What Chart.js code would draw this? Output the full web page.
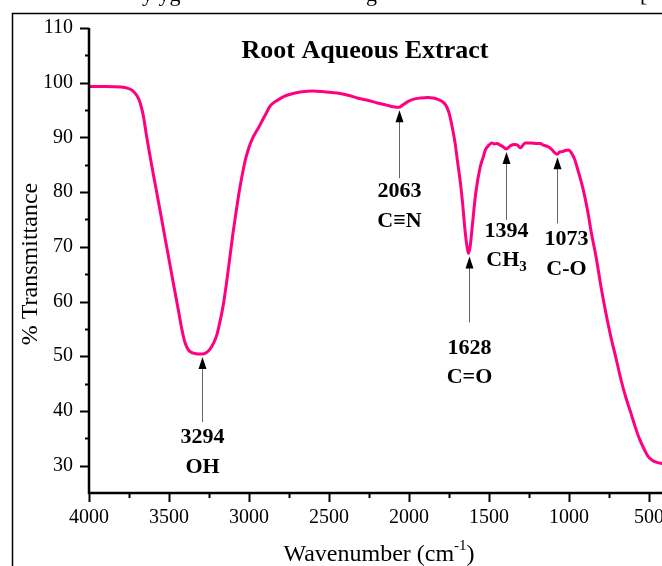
<!DOCTYPE html>
<html>
<head>
<meta charset="utf-8">
<script src="https://cdn.jsdelivr.net/npm/chart.js@4.4.0/dist/chart.umd.min.js"></script>
<style>
html, body { margin: 0; padding: 0; background: #fff; overflow: hidden; }
#wrap { width: 680px; height: 566px; }
</style>
</head>
<body>
<div id="wrap"><canvas id="myChart" width="680" height="566"></canvas></div>
<script>
// FTIR spectrum, values
var wavenumber = [
    4000, 3900, 3800, 3760, 3730, 3700, 3680, 3660, 3640, 3600,
    3560, 3520, 3480, 3440, 3420, 3400, 3380, 3360, 3338, 3310,
    3294, 3265, 3244, 3220, 3200, 3180, 3160, 3140, 3120, 3100,
    3080, 3060, 3040, 3020, 3000, 2980, 2960, 2940, 2920, 2900,
    2866, 2822, 2780, 2742, 2680, 2600, 2520, 2448, 2380, 2323,
    2260, 2198, 2140, 2098, 2063, 2040, 2010, 1970, 1929, 1880,
    1850, 1823, 1795, 1770, 1750, 1730, 1712, 1698, 1680, 1667,
    1648, 1636, 1628, 1618, 1605, 1583, 1555, 1535, 1523, 1500,
    1482, 1465, 1450, 1430, 1412, 1394, 1380, 1365, 1340, 1322,
    1305, 1290, 1273, 1240, 1198, 1180, 1161, 1130, 1104, 1090,
    1073, 1060, 1042, 1025, 1004, 988, 965, 944, 920, 900,
    880, 863, 830, 800, 770, 738, 705, 675, 645, 613,
    585, 557, 530, 506, 480, 450, 420, 400
];
var transmittance = [
    99.3, 99.3, 99.2, 99.0, 98.6, 97.6, 96.3, 93.9, 90.2, 83.6,
    77.3, 70.9, 64.5, 58.2, 55.0, 52.5, 51.2, 50.7, 50.5, 50.4,
    50.4, 50.7, 51.3, 52.5, 54.0, 56.5, 59.5, 63.5, 68.0, 72.5,
    76.5, 80.3, 83.5, 86.2, 88.2, 89.7, 90.8, 91.8, 92.9, 94.0,
    95.8, 96.8, 97.5, 97.9, 98.3, 98.5, 98.3, 98.1, 97.7, 97.2,
    96.8, 96.3, 95.9, 95.6, 95.5, 95.9, 96.5, 97.0, 97.2, 97.3,
    97.2, 97.0, 96.6, 95.9, 94.5, 91.9, 89.0, 85.9, 82.0, 78.6,
    72.5, 69.8, 68.8, 70.0, 73.6, 79.8, 84.6, 86.5, 87.7, 88.6,
    89.0, 88.8, 88.9, 88.6, 88.3, 87.9, 88.1, 88.5, 88.7, 88.6,
    88.1, 88.5, 89.0, 89.0, 88.9, 88.9, 88.6, 88.3, 87.7, 87.2,
    86.9, 87.3, 87.4, 87.6, 87.7, 87.3, 86.0, 84.0, 81.5, 79.0,
    76.0, 73.0, 68.0, 62.7, 58.0, 53.5, 49.5, 45.7, 42.5, 39.6,
    37.0, 34.7, 33.0, 31.7, 31.0, 30.6, 30.4, 30.3
];
var xTicks = [4000, 3500, 3000, 2500, 2000, 1500, 1000, 500];
var yTicks = [30, 40, 50, 60, 70, 80, 90, 100, 110];
var peakWavenumber = [3294, 2063, 1628, 1394, 1073];
var peakGroup = ['OH', 'C\u2261N', 'C=O', 'CH3', 'C-O'];

var serif = '"Liberation Serif", "Times New Roman", serif';

function curveAt(wn) {
    for (var i = 0; i < wavenumber.length - 1; i++) {
        var a = wavenumber[i], b = wavenumber[i + 1];
        if (wn <= a && wn >= b) {
            var t = (a - wn) / (a - b);
            return transmittance[i] + t * (transmittance[i + 1] - transmittance[i]);
        }
    }
    return transmittance[transmittance.length - 1];
}

// arrow length and label offsets (px) for each peak note
var noteLayout = [
    { len: 65, num: 15, grp: 45, dx: 0 },
    { len: 68, num: 13, grp: 43, dx: 0 },
    { len: 66, num: 26, grp: 55, dx: 0 },
    { len: 68, num: 11, grp: 40, dx: 0 },
    { len: 66, num: 16, grp: 46, dx: 9 }
];

var ftirDecor = {
    id: 'ftirDecor',
    afterDraw: function(chart) {
        var ctx = chart.ctx;
        var xs = chart.scales.x, ys = chart.scales.y;
        var area = chart.chartArea;
        ctx.save();

        // page frame round the figure
        ctx.strokeStyle = '#000';
        ctx.lineWidth = 1.5;
        ctx.beginPath();
        ctx.moveTo(12.5, chart.height);
        ctx.lineTo(12.5, 13.5);
        ctx.lineTo(chart.width, 13.5);
        ctx.stroke();

        // tail of the text line above the figure
        ctx.fillStyle = '#000';
        ctx.font = '22px ' + serif;
        ctx.textAlign = 'left';
        ctx.textBaseline = 'alphabetic';
        ctx.fillText('y yg', 142, 1);
        ctx.fillText('g', 366, 1);
        ctx.fillText('[', 640, 1);

        // axes
        var top = ys.getPixelForValue(110);
        ctx.lineWidth = 2.5;
        ctx.beginPath();
        ctx.moveTo(area.left, top);
        ctx.lineTo(area.left, area.bottom + 1);
        ctx.moveTo(area.left - 1, area.bottom);
        ctx.lineTo(chart.width, area.bottom);
        ctx.stroke();

        ctx.lineWidth = 2;
        ctx.beginPath();
        for (var v = 30; v <= 110; v += 5) {
            var py = Math.round(ys.getPixelForValue(v)) + 0.5;
            ctx.moveTo(area.left, py);
            ctx.lineTo(area.left - (v % 10 === 0 ? 9 : 4), py);
        }
        for (var w = 4000; w >= 400; w -= 250) {
            var px = Math.round(xs.getPixelForValue(w)) + 0.5;
            ctx.moveTo(px, area.bottom);
            ctx.lineTo(px, area.bottom + (w % 500 === 0 ? 9 : 5));
        }
        ctx.stroke();

        // title
        ctx.font = 'bold 26px ' + serif;
        ctx.textAlign = 'center';
        ctx.textBaseline = 'middle';
        ctx.fillText('Root Aqueous Extract', 365, 51);

        // axis titles
        ctx.font = '24px ' + serif;
        ctx.save();
        ctx.translate(31, 264);
        ctx.rotate(-Math.PI / 2);
        ctx.fillText('% Transmittance', 0, 0);
        ctx.restore();

        var main = 'Wavenumber (cm', sup = '-1', end = ')';
        ctx.font = '24px ' + serif;
        var w1 = ctx.measureText(main).width, w3 = ctx.measureText(end).width;
        ctx.font = '15px ' + serif;
        var w2 = ctx.measureText(sup).width;
        var sx = 379 - (w1 + w2 + w3) / 2;
        ctx.textAlign = 'left';
        ctx.textBaseline = 'alphabetic';
        ctx.font = '24px ' + serif;
        ctx.fillText(main, sx, 561);
        ctx.font = '15px ' + serif;
        ctx.fillText(sup, sx + w1, 550);
        ctx.font = '24px ' + serif;
        ctx.fillText(end, sx + w1 + w2, 561);

        // peak notes
        for (var i = 0; i < peakWavenumber.length; i++) {
            var L = noteLayout[i];
            var ax = Math.round(xs.getPixelForValue(peakWavenumber[i])) + 0.5;
            var tip = ys.getPixelForValue(curveAt(peakWavenumber[i])) + 3;
            var tail = tip + L.len;
            ctx.strokeStyle = '#666';
            ctx.lineWidth = 1;
            ctx.beginPath();
            ctx.moveTo(ax, tip + 9);
            ctx.lineTo(ax, tail);
            ctx.stroke();
            ctx.fillStyle = '#000';
            ctx.beginPath();
            ctx.moveTo(ax, tip);
            ctx.lineTo(ax - 4, tip + 12);
            ctx.lineTo(ax + 4, tip + 12);
            ctx.closePath();
            ctx.fill();

            ctx.font = 'bold 22px ' + serif;
            ctx.textAlign = 'center';
            ctx.textBaseline = 'middle';
            ctx.fillText(String(peakWavenumber[i]), ax + L.dx, tail + L.num);
            var g = peakGroup[i];
            if (g === 'CH3') {
                var gw = ctx.measureText('CH').width;
                ctx.font = 'bold 15px ' + serif;
                var sw = ctx.measureText('3').width;
                var gx = ax + L.dx - (gw + sw) / 2;
                ctx.textAlign = 'left';
                ctx.font = 'bold 22px ' + serif;
                ctx.fillText('CH', gx, tail + L.grp);
                ctx.font = 'bold 15px ' + serif;
                ctx.fillText('3', gx + gw, tail + L.grp + 7);
            } else {
                ctx.fillText(g, ax + L.dx, tail + L.grp);
            }
        }
        ctx.restore();
    }
};

var points = wavenumber.map(function(w, i) { return { x: w, y: transmittance[i] }; });

var config = {
    type: 'line',
    data: {
        datasets: [{
            label: 'Root Aqueous Extract',
            data: points,
            borderColor: '#ff0080',
            backgroundColor: '#ff0080',
            borderWidth: 3,
            pointRadius: 0,
            cubicInterpolationMode: 'monotone',
            fill: false
        }]
    },
    options: {
        responsive: false,
        animation: false,
        layout: { padding: { left: 0, top: 28, right: 15, bottom: 0 } },
        plugins: {
            legend: { display: false },
            tooltip: { enabled: false },
            title: { display: false }
        },
        scales: {
            x: {
                type: 'linear',
                reverse: true,
                min: 400,
                max: 4000,
                afterBuildTicks: function(scale) {
                    scale.ticks = xTicks.map(function(v) { return { value: v }; });
                },
                afterFit: function(scale) { scale.height = 73; },
                ticks: {
                    color: '#000',
                    padding: 13,
                    maxRotation: 0,
                    autoSkip: false,
                    font: { family: serif, size: 20 },
                    callback: function(v) { return String(v); }
                },
                grid: { display: false, drawTicks: false },
                border: { display: false }
            },
            y: {
                min: 25,
                max: 110,
                afterBuildTicks: function(scale) {
                    scale.ticks = yTicks.map(function(v) { return { value: v }; });
                },
                afterFit: function(scale) { scale.width = 89; },
                ticks: {
                    color: '#000',
                    padding: 16,
                    font: { family: serif, size: 20 },
                    callback: function(v) { return String(v); }
                },
                grid: { display: false, drawTicks: false },
                border: { display: false }
            }
        }
    },
    plugins: [ftirDecor]
};

window.addEventListener('DOMContentLoaded', function() {
    var ctx = document.getElementById('myChart').getContext('2d');
    window.myLine = new Chart(ctx, config);
});
</script>
</body>
</html>
